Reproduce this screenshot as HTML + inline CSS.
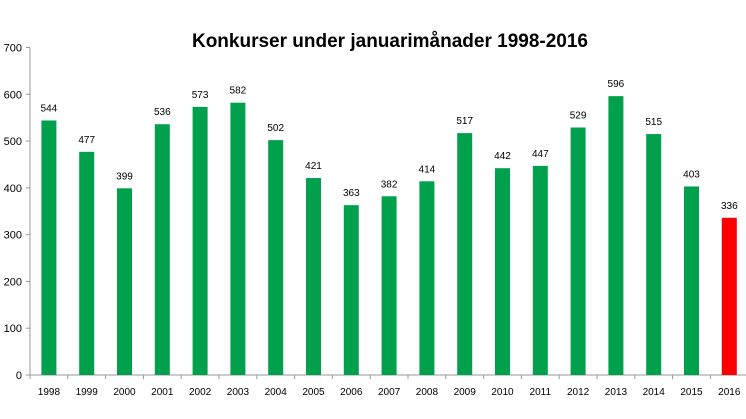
<!DOCTYPE html>
<html><head><meta charset="utf-8"><style>
body{margin:0;background:#fff;}
svg{display:block;font-family:"Liberation Sans",sans-serif;}
</style></head><body>
<svg id="chart" width="746" height="419">
<text x="390" y="47" text-anchor="middle" font-size="19" font-weight="bold">Konkurser under januarimånader 1998-2016</text>
<g id="axes"></g><g id="bars"></g>
</svg>
<script>
const years=["1998","1999","2000","2001","2002","2003","2004","2005","2006","2007","2008","2009","2010","2011","2012","2013","2014","2015","2016"];
const values=[544,477,399,536,573,582,502,421,363,382,414,517,442,447,529,596,515,403,336];
const yTicks=[0,100,200,300,400,500,600,700];
const NS="http://www.w3.org/2000/svg";
const x0=30,step=37.8,y0=375,yTop=47.5,yMax=700,bw=15;
const y=v=>y0-(v/yMax)*(y0-yTop);
const xc=i=>x0+step*(i+0.5);
function mk(tag,attrs,parent){const e=document.createElementNS(NS,tag);for(const k in attrs)e.setAttribute(k,attrs[k]);parent.appendChild(e);return e;}
const ax=document.getElementById('axes'),bg=document.getElementById('bars');
let l=mk('line',{x1:x0,y1:yTop,x2:x0,y2:y0,stroke:'#999'},ax);


l=mk('line',{x1:x0-4,y1:y0,x2:746,y2:y0,stroke:'#999'},ax);


yTicks.forEach(t=>{
 mk('line',{x1:x0-4,y1:y(t),x2:x0,y2:y(t),stroke:'#999'},ax);
 const tx=mk('text',{x:x0-8,y:y(t)+4,'text-anchor':'end','font-size':11},ax);
 tx.textContent=t;
 
 
});
years.forEach((yr,i)=>{
 mk('line',{x1:x0+step*i,y1:y0,x2:x0+step*i,y2:y0+4,stroke:'#999'},ax);
 const tx=mk('text',{x:xc(i),y:y0+20,'text-anchor':'middle','font-size':10},ax);
 tx.textContent=yr;
 
 
 const v=values[i];
 const r=mk('rect',{x:xc(i)-bw/2,y:y(v),width:bw,height:y0-y(v),fill:i===years.length-1?'#FF0000':'#00A04D'},bg);
 
 
 const lb=mk('text',{x:xc(i),y:y(v)-9,'text-anchor':'middle','font-size':10},bg);
 lb.textContent=v;
 
 
});
</script>
</body></html>
